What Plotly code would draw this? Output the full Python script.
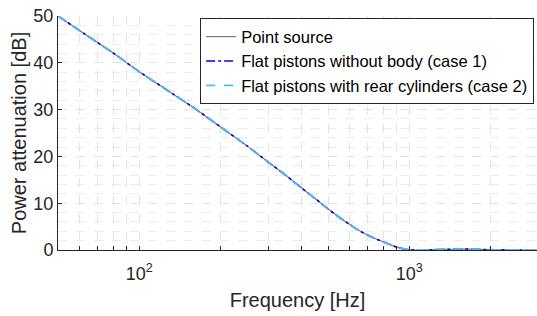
import numpy as np
import plotly.graph_objects as go

# Data (frequency in Hz, attenuation in dB)
freq = [50, 63, 80, 100, 125, 160, 200, 250, 300, 350, 400, 450, 500, 550, 600,
        650, 700, 750, 800, 850, 900, 950, 1000, 1100, 1200, 1300, 1400, 1500,
        1600, 1800, 2000, 2300, 2600, 3000]
point_source = [50.0, 46.1, 42.1, 38.1, 34.4, 30.3, 26.3, 22.3, 18.8, 15.9, 13.2,
                10.9, 8.8, 7.0, 5.5, 4.2, 3.2, 2.4, 1.75, 1.15, 0.6, 0.25, 0.05, 0.0,
                0.04, 0.09, 0.14, 0.18, 0.19, 0.15, 0.07, 0.02, 0.0, 0.0]
case1 = [50.0, 46.1, 42.1, 38.1, 34.4, 30.3, 26.3, 22.3, 18.8, 15.9, 13.2,
         10.9, 8.8, 7.0, 5.5, 4.2, 3.2, 2.4, 1.75, 1.15, 0.6, 0.25, 0.05, 0.0,
         0.05, 0.1, 0.16, 0.2, 0.21, 0.16, 0.06, 0.02, 0.0, 0.0]
case2 = [50.0, 46.1, 42.1, 38.1, 34.4, 30.3, 26.3, 22.3, 18.8, 15.9, 13.2,
         10.9, 8.8, 7.0, 5.5, 4.2, 3.2, 2.4, 1.75, 1.15, 0.6, 0.27, 0.07, 0.0,
         0.05, 0.11, 0.18, 0.22, 0.23, 0.18, 0.07, 0.03, 0.0, 0.0]

series_names = ["Point source", "Flat pistons without body (case 1)",
                "Flat pistons with rear cylinders (case 2)"]

x_tickvals = [50, 60, 70, 80, 90, 100, 200, 300, 400, 500, 600, 700, 800, 900,
              1000, 2000, 3000]
x_ticktext = ["" if v not in (100, 1000) else ("10<sup>2</sup>" if v == 100 else "10<sup>3</sup>")
              for v in x_tickvals]
y_tickvals = [0, 10, 20, 30, 40, 50]

txt = "#262626"
grid = "#e3e3e3"

fig = go.Figure()
fig.add_trace(go.Scatter(x=freq, y=point_source, mode="lines", name=series_names[0],
                         line=dict(color="#808080", width=1.2, shape="spline", smoothing=0.6)))
fig.add_trace(go.Scatter(x=freq, y=case1, mode="lines", name=series_names[1],
                         line=dict(color="#0000ff", width=1.6, dash="dashdot",
                                   shape="spline", smoothing=0.6)))
fig.add_trace(go.Scatter(x=freq, y=case2, mode="lines", name=series_names[2],
                         line=dict(color="#4dbeee", width=1.8, dash="dash",
                                   shape="spline", smoothing=0.6)))

fig.update_layout(
    width=537, height=316,
    margin=dict(l=58, r=0, t=16, b=66, autoexpand=False),
    paper_bgcolor="white", plot_bgcolor="white",
    font=dict(family="Liberation Sans, Arial, sans-serif", color=txt, size=18),
    showlegend=True,
    legend=dict(x=0.994, xanchor="right", y=0.99, yanchor="top",
                bordercolor="#262626", borderwidth=1, bgcolor="white",
                font=dict(size=16.5, color="#000000"), itemwidth=30,
                tracegroupgap=0),
)
fig.update_xaxes(
    type="log", range=[np.log10(50), 3.473], automargin=False,
    tickmode="array", tickvals=x_tickvals, ticktext=x_ticktext,
    ticks="inside", ticklen=4, tickcolor=txt, tickfont=dict(size=18, color=txt),
    ticklabelstandoff=7, ticklabeloverflow="allow",
    showline=True, linecolor=txt, linewidth=1,
    showgrid=True, gridcolor=grid, griddash="dash", gridwidth=1,
    zeroline=False,
    title=dict(text="Frequency [Hz]", font=dict(size=20, color=txt), standoff=10),
)
fig.update_yaxes(
    range=[0, 50], tickmode="array", tickvals=y_tickvals, automargin=False,
    ticks="inside", ticklen=4, tickcolor=txt, tickfont=dict(size=18, color=txt),
    ticklabeloverflow="allow",
    showline=True, linecolor=txt, linewidth=1,
    showgrid=True, gridcolor=grid, griddash="dash", gridwidth=1,
    minor=dict(dtick=2, tick0=0, showgrid=True, gridcolor="#ececec", griddash="dash", ticks=""),
    zeroline=False,
    title=dict(text="Power attenuation [dB]", font=dict(size=20, color=txt), standoff=1),
)

# Remove the default 8px page margin so the 537x316 figure fills the window.
fig.write_html("out.html", config={"displayModeBar": False},
               post_script="document.body.style.margin='0';")
